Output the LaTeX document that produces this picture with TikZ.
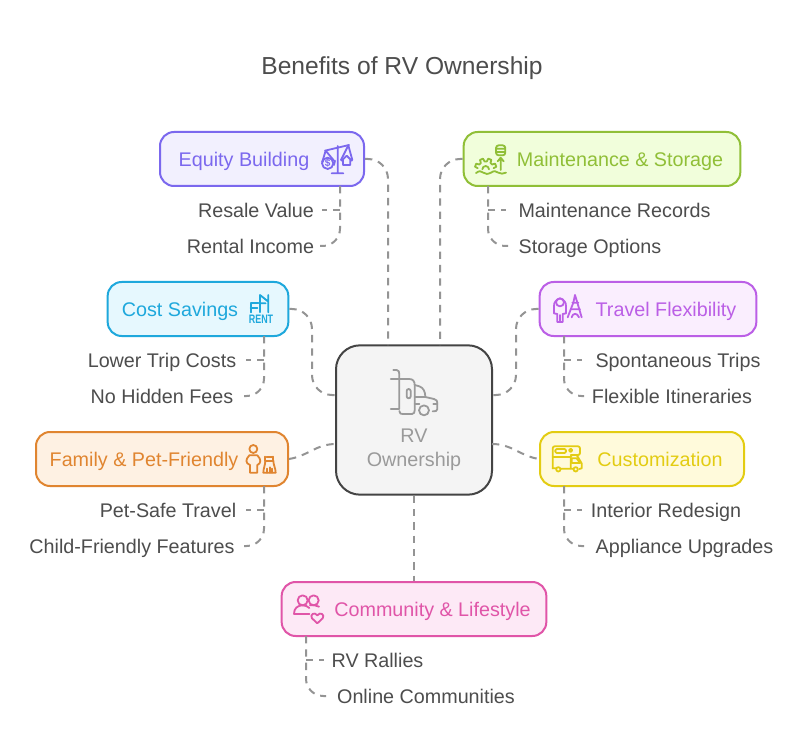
\documentclass[tikz,border=0pt]{standalone}
\usepackage{fontspec}
\setmainfont{Liberation Sans}
\definecolor{txt}{HTML}{4D4D4D}
\definecolor{conn}{HTML}{949494}
\definecolor{hubline}{HTML}{444444}
\definecolor{hubfill}{HTML}{F4F4F4}
\definecolor{hubtext}{HTML}{9A9A9A}
\definecolor{eqS}{HTML}{7B68EE}\definecolor{eqF}{HTML}{F2F0FE}
\definecolor{maS}{HTML}{90BF37}\definecolor{maF}{HTML}{F1FEDB}
\definecolor{coS}{HTML}{1EA8DC}\definecolor{coF}{HTML}{E6F8FE}
\definecolor{trS}{HTML}{BB5FE6}\definecolor{trF}{HTML}{FAEEFE}
\definecolor{faS}{HTML}{E08530}\definecolor{faF}{HTML}{FEF1E3}
\definecolor{cuS}{HTML}{E3CC12}\definecolor{cuF}{HTML}{FFFADB}
\definecolor{cmS}{HTML}{E055A8}\definecolor{cmF}{HTML}{FDE9F6}
\tikzset{
  box/.style={draw=#1S,fill=#1F,line width=1.5pt,rounded corners=10.5pt,minimum height=40.5pt,inner sep=0pt},
  head/.style={text=#1S,font=\fontsize{14.8pt}{18pt}\selectfont,anchor=base,inner sep=0pt},
  item/.style={text=txt,font=\fontsize{14.8pt}{18pt}\selectfont,anchor=base,inner sep=0pt},
  link/.style={draw=conn,line width=1.5pt,dash pattern=on 5.5pt off 4.5pt,rounded corners=15pt},
  twig/.style={draw=conn,line width=1.5pt,dash pattern=on 5.5pt off 4.5pt,rounded corners=13pt},
  ico/.style={draw=#1,line width=1.35pt,line cap=round,line join=round},
  zm/.style={x=.25pt,y=-.25pt}
}
\begin{document}
\begin{tikzpicture}[x=.75pt,y=-.75pt]
\useasboundingbox (0,0) rectangle (804,756);
\fill[white] (0,0) rectangle (804,756);
\node[draw=hubline,fill=hubfill,line width=1.5pt,rounded corners=18pt,minimum width=117pt,minimum height=112pt,inner sep=0pt] (hub) at (414,420) {};
\node[box=eq,minimum width=153pt] (eq) at (262,159) {};
\node[box=ma,minimum width=207.5pt] (ma) at (602,159) {};
\node[box=co,minimum width=135.5pt] (co) at (198,309) {};
\node[box=tr,minimum width=162.5pt] (tr) at (648,309) {};
\node[box=fa,minimum width=189pt] (fa) at (162,459) {};
\node[box=cu,minimum width=153pt] (cu) at (642,459) {};
\node[box=cm,minimum width=198.5pt] (cm) at (414,609) {};
\coordinate (hubNa) at (388,345);
\coordinate (hubNb) at (440,345);
\coordinate (hubWa) at (336,395);
\coordinate (hubWb) at (336,444);
\coordinate (hubEa) at (492,395);
\coordinate (hubEb) at (492,444);
\coordinate (eqS1) at (340,186);\coordinate (maS1) at (488,186);
\coordinate (coS1) at (264,336);\coordinate (trS1) at (564,336);
\coordinate (faS1) at (264,486);\coordinate (cuS1) at (564,486);
\coordinate (cmS1) at (306,636);
\draw[link] (eq.east) -- (388,159) -- (hubNa);
\draw[link] (ma.west) -- (440,159) -- (hubNb);
\draw[link] (co.east) -- (312,309) -- (312,395) -- (hubWa);
\draw[link] (tr.west) -- (516,309) -- (516,395) -- (hubEa);
\draw[link,rounded corners=0pt] (fa.east) .. controls (308,456) and (316,444) .. (hubWb);
\draw[link,rounded corners=0pt] (hubEb) .. controls (512,444) and (520,456) .. (cu.west);
\draw[link] (hub.south) -- (cm.north);
% titles
\node[text=txt,font=\fontsize{18.45pt}{22pt}\selectfont,anchor=base,inner sep=0pt] (title) at (402,75) {Benefits of RV Ownership};
\node[head=eq] (eqT) at (244,166.5) {Equity Building};
\node[head=ma] (maT) at (620,166.5) {Maintenance \& Storage};
\node[head=co] (coT) at (180,316.5) {Cost Savings};
\node[head=tr] (trT) at (666,316.5) {Travel Flexibility};
\node[head=fa] (faT) at (144,466.5) {Family \& Pet-Friendly};
\node[head=cu] (cuT) at (660,466.5) {Customization};
\node[head=cm] (cmT) at (432.5,616.5) {Community \& Lifestyle};
\node[text=hubtext,font=\fontsize{14.8pt}{18pt}\selectfont,anchor=base,inner sep=0pt] (hubA) at (414,442) {RV};
\node[text=hubtext,font=\fontsize{14.8pt}{18pt}\selectfont,anchor=base,inner sep=0pt] (hubB) at (414,466) {Ownership};
% items
\node[item] (i1) at (256,217.5) {Resale Value};
\node[item] (i2) at (250.5,253) {Rental Income};
\node[item] (i3) at (614.5,217.5) {Maintenance Records};
\node[item] (i4) at (590,253) {Storage Options};
\node[item] (i5) at (162,367) {Lower Trip Costs};
\node[item] (i6) at (162,403) {No Hidden Fees};
\node[item] (i7) at (678,367) {Spontaneous Trips};
\node[item] (i8) at (672,403) {Flexible Itineraries};
\node[item] (i9) at (168,517) {Pet-Safe Travel};
\node[item] (i10) at (132,553) {Child-Friendly Features};
\node[item] (i11) at (666,517) {Interior Redesign};
\node[item] (i12) at (684.5,553) {Appliance Upgrades};
\node[item] (i13) at (377.5,667) {RV Rallies};
\node[item] (i14) at (426,703) {Online Communities};
% sub connectors
\coordinate (e1) at (322,210);\coordinate (e2) at (320,246);
\draw[twig] (eqS1) -- (340,246) -- (e2);
\draw[twig,rounded corners=0pt] (340,210) -- (e1);
\coordinate (m1) at (506,210);\coordinate (m2) at (508,246);
\draw[twig] (maS1) -- (488,246) -- (m2);
\draw[twig,rounded corners=0pt] (488,210) -- (m1);
\coordinate (c1) at (246,360);\coordinate (c2) at (244,396);
\draw[twig] (coS1) -- (264,396) -- (c2);
\draw[twig,rounded corners=0pt] (264,360) -- (c1);
\coordinate (t1) at (582,360);\coordinate (t2) at (584,396);
\draw[twig] (trS1) -- (564,396) -- (t2);
\draw[twig,rounded corners=0pt] (564,360) -- (t1);
\coordinate (f1) at (246,510);\coordinate (f2) at (244,546);
\draw[twig] (faS1) -- (264,546) -- (f2);
\draw[twig,rounded corners=0pt] (264,510) -- (f1);
\coordinate (u1) at (582,510);\coordinate (u2) at (584,546);
\draw[twig] (cuS1) -- (564,546) -- (u2);
\draw[twig,rounded corners=0pt] (564,510) -- (u1);
\coordinate (k1) at (324,660);\coordinate (k2) at (326,696);
\draw[twig] (cmS1) -- (306,696) -- (k2);
\draw[twig,rounded corners=0pt] (306,660) -- (k1);
% icon: scales
\begin{scope}[shift={(150,120)},zm,ico=eqS]
\draw (563,78) -- (563,160) (545,160) -- (580,160) (525,92) -- (597,75);
\draw (527,92) -- (517,125) (527,92) -- (552,122);
\draw (516,125) -- (520,122) (555,122) -- (552,135);
\draw (533,130) circle (17);
\draw (595,76) -- (573,120) (595,76) -- (607,120);
\draw (575,122) -- (590,107) -- (605,122) (579,120) -- (579,135) -- (601,135) -- (601,120);
\end{scope}
\node[text=eqS,font=\fontsize{7.5pt}{8pt}\bfseries\selectfont,inner sep=0pt] (eqIc) at (327.7,163.5) {\$};
% icon: maintenance
\begin{scope}[shift={(430,120)},zm,ico=maS]
\draw[rounded corners=2pt] (198,76) rectangle (226,106) (198,86) -- (226,86) (198,96) -- (226,96);
\draw (212,150) -- (212,114) (203,124) -- (212,113) -- (221,124);
\begin{scope}[shift={(167,148)}]
\draw (-172:24) -- (-166:33) -- (-149:33) -- (-143:24) -- (-127:24) -- (-121:33) -- (-104:33) -- (-98:24) -- (-82:24) -- (-76:33) -- (-59:33) -- (-53:24) -- (-37:24) -- (-31:33) -- (-14:33) -- (-8:24);
\draw (-180:10) arc (-180:0:10);
\end{scope}
\draw (138,159) .. controls (148,152) and (153,152) .. (160,158) .. controls (168,163) and (172,163) .. (183,158) .. controls (192,152) and (197,152) .. (205,158) .. controls (212,163) and (220,161) .. (228,158);
\end{scope}
% icon: rent
\begin{scope}[shift={(100,270)},zm,ico=coS]
\draw (452,127) -- (452,100) -- (475,100) (452,113) -- (472,113);
\draw (480,127) -- (480,75) -- (505,95) (505,127) -- (505,75) (480,100) -- (497,100);
\end{scope}
\node[text=coS,font=\fontsize{9.2pt}{10pt}\bfseries\selectfont,inner sep=0pt] (coIc) at (261,319.5) {\scalebox{.73}[1]{RENT}};
% icon: traveller and tower
\begin{scope}[shift={(530,270)},zm,ico=trS]
\draw (90,97) circle (12);
\draw (72,130) -- (72,108) .. controls (72,96) and (78,90) .. (90,85) .. controls (102,90) and (108,96) .. (108,108) -- (108,130) -- (98,132) -- (98,156) -- (82,156) -- (82,132) -- cycle;
\draw (90,135) -- (90,156);
\draw (135,75) -- (130,98) -- (113,142) (135,75) -- (142,98) -- (155,142);
\draw (127,98) -- (145,98) (122,118) -- (150,118) (125,142) .. controls (128,128) and (142,128) .. (147,142);
\end{scope}
% icon: person and pet
\begin{scope}[shift={(20,420)},zm,ico=faS]
\draw (700,87) circle (12);
\draw (690,158) -- (690,135) .. controls (676,130) and (676,118) .. (688,106) -- (712,106) .. controls (724,118) and (724,130) .. (712,135) -- (712,158) -- cycle;
\draw (736,110) -- (736,122) -- (760,122) -- (760,110) (740,112) -- (756,112);
\draw (736,122) .. controls (736,135) and (730,145) .. (730,158) -- (767,158) .. controls (767,145) and (760,135) .. (760,122);
\draw (741,158) -- (741,146) (749,158) -- (749,142) (757,158) -- (757,146);
\end{scope}
% icon: camper
\begin{scope}[shift={(530,425)},zm,ico=cuS]
\draw[rounded corners=1.5pt] (68,130) -- (68,64) -- (150,64) -- (150,90) -- (122,90) -- (122,130);
\draw (122,90) -- (140,90) -- (155,115) -- (155,130) -- (148,132);
\draw[rounded corners=1pt] (76,72) rectangle (108,84);
\draw (68,96) -- (122,96) (122,76) circle (5);
\draw (125,100) -- (140,100) -- (150,114) -- (125,114) -- cycle;
\draw (85,133) circle (6.5) (137,133) circle (6.5) (68,130) -- (78,130) (92,131) -- (130,131);
\end{scope}
% icon: community
\begin{scope}[shift={(270,570)},zm,ico=cmS]
\draw (98,91) circle (15) (131,91) circle (15);
\draw (72,131) .. controls (72,114) and (84,106) .. (98,106) .. controls (106,106) and (113,109) .. (118,114);
\draw (72,131) -- (118,131);
\draw (120,106) .. controls (128,105) and (138,105) .. (147,110);
\draw (142,160) -- (126,145) .. controls (118,134) and (134,124) .. (142,136) .. controls (150,124) and (166,134) .. (158,145) -- cycle;
\end{scope}
% icon: truck
\begin{scope}[shift={(330,335)},zm,ico=hubtext]
\draw (190,105) -- (200,105) .. controls (206,106) and (208,110) .. (208,118) -- (208,222) (182,132) -- (238,132) (182,222) -- (208,222);
\draw (208,228) .. controls (209,236) and (212,237) .. (218,237) -- (246,237) .. controls (252,237) and (254,232) .. (254,226) -- (254,150) .. controls (254,140) and (250,132) .. (238,132);
\draw (254,150) -- (268,154) .. controls (280,158) and (286,170) .. (286,186) -- (254,186);
\draw (286,186) -- (312,192) .. controls (320,194) and (322,198) .. (322,204) -- (322,222) .. controls (322,228) and (316,230) .. (308,229);
\draw (322,206) -- (310,206) (254,206) -- (268,206);
\draw (282,226) circle (15);
\draw[rounded corners=1.5pt] (230,162) rectangle (242,190);
\end{scope}
\end{tikzpicture}
\end{document}
